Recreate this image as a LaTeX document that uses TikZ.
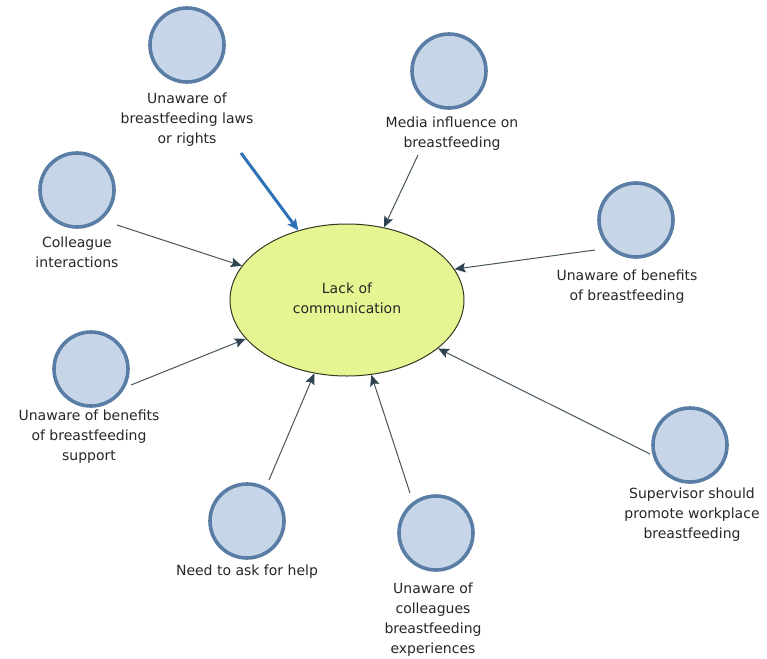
\documentclass[tikz,border=0pt]{standalone}
\usepackage{fontspec}
\setmainfont{DejaVu Sans}
\usetikzlibrary{arrows.meta,shapes.geometric}
\definecolor{bubblefill}{HTML}{C7D5E9}
\definecolor{bubbleedge}{HTML}{5A7DA6}
\definecolor{corefill}{HTML}{E6F592}
\definecolor{coreedge}{HTML}{2E3A22}
\definecolor{linkgray}{HTML}{47545D}
\definecolor{headgray}{HTML}{2F4450}
\definecolor{linkblue}{HTML}{2C72B4}
\definecolor{labeltext}{HTML}{262626}
\tikzset{
  bubble/.style={circle, fill=bubblefill, draw=bubbleedge, line width=3.6pt,
    minimum size=74pt, inner sep=0pt},
  core/.style={ellipse, fill=corefill, draw=coreedge, line width=1pt,
    minimum width=234pt, minimum height=152pt, inner sep=0pt},
  caption/.style={align=center, text=labeltext, inner sep=0pt,
    font=\fontsize{14}{20}\selectfont},
  link/.style={draw=linkgray, line width=1pt,
    -{Stealth[length=11pt,width=9.5pt,inset=2pt,color=headgray,fill=headgray]}},
  strong link/.style={draw=linkblue, line width=3pt,
    -{Stealth[length=11pt,width=10pt,inset=2pt,fill=linkblue]}}
}
\begin{document}
\begin{tikzpicture}[x=1pt,y=-1pt]
\useasboundingbox (0,0) rectangle (767,658);

% central theme
\node[core] (core) at (347,300) {};
\node[caption] (coretext) at (347,298) {Lack of\\communication};

% surrounding factors
\node[bubble] (laws)    at (187,45)  {};
\node[bubble] (media)   at (449,71)  {};
\node[bubble] (peers)   at (77,190)  {};
\node[bubble] (benef)   at (636,220) {};
\node[bubble] (support) at (91,369)  {};
\node[bubble] (help)    at (247,521) {};
\node[bubble] (exper)   at (436,533) {};
\node[bubble] (superv)  at (690,445) {};

% their captions
\node[caption] (lawsL)    at (187,120) {Unaware of\\breastfeeding laws\\or rights};
\node[caption] (mediaL)   at (452,134) {Media influence on\\breastfeeding};
\node[caption] (peersL)   at (77,252)  {Colleague\\interactions};
\node[caption] (benefL)   at (627,287) {Unaware of benefits\\of breastfeeding};
\node[caption] (supportL) at (89,437)  {Unaware of benefits\\of breastfeeding\\support};
\node[caption] (helpL)    at (247,572) {Need to ask for help};
\node[caption] (experL)   at (433,620) {Unaware of\\colleagues\\breastfeeding\\experiences};
\node[caption] (supervL)  at (692,515) {Supervisor should\\promote workplace\\breastfeeding};

% where each connector starts
\coordinate (lawsT)    at (241,153);
\coordinate (mediaT)   at (418,155);
\coordinate (peersT)   at (117,225);
\coordinate (benefT)   at (595,250);
\coordinate (supportT) at (131,385);
\coordinate (helpT)    at (269,480);
\coordinate (experT)   at (410,493);
\coordinate (supervT)  at (650,454);

% connectors into the central theme
\draw[strong link] (lawsT) -- (core.125);
\draw[link] (mediaT)   -- (core.63);
\draw[link] (peersT)   -- (core.162);
\draw[link] (benefT)   -- (core.16);
\draw[link] (supportT) -- (core.201);
\draw[link] (helpT)    -- (core.246);
\draw[link] (experT)   -- (core.288);
\draw[link] (supervT)  -- (core.332);
\end{tikzpicture}
\end{document}
